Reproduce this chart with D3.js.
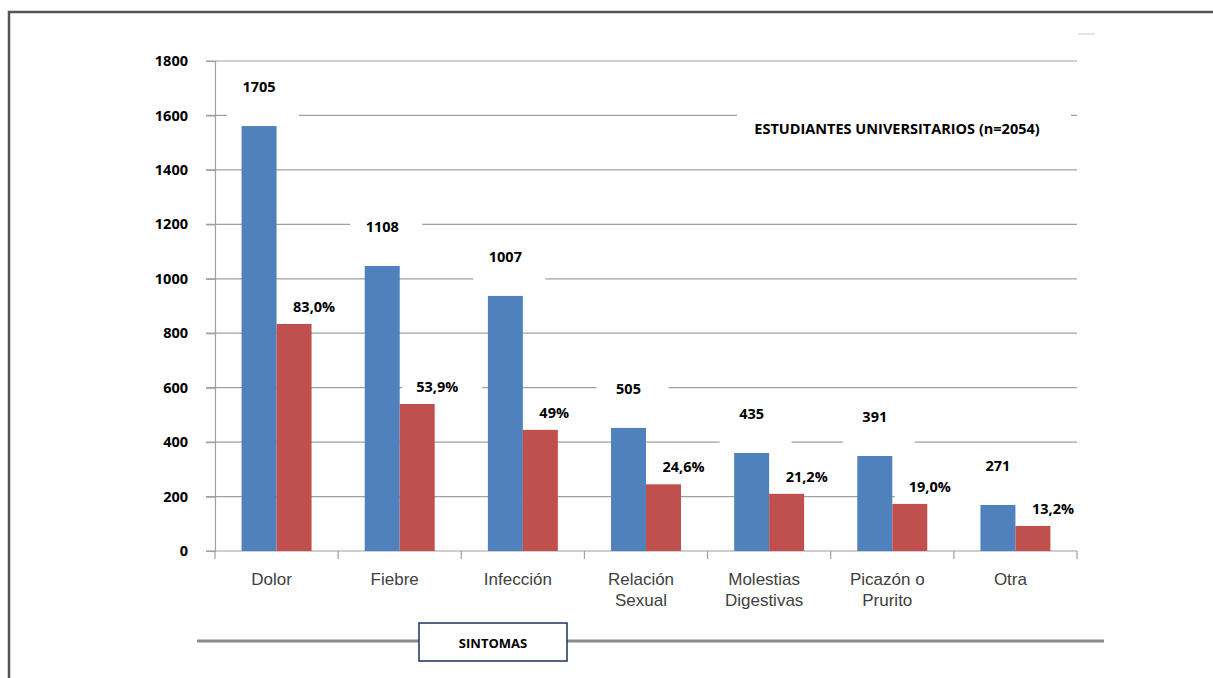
<!DOCTYPE html>
<html>
<head>
<meta charset="utf-8">
<script src="https://cdn.jsdelivr.net/npm/d3@7"></script>
<style>
	body { margin: 0; background: #fff; }
	svg text { font-family: "Open Sans", "Noto Sans", sans-serif; }
</style>
</head>
<body>
<div id="chart"></div>
<script>
// categories and values
const categories = ["Dolor", "Fiebre", "Infección", "Relación Sexual", "Molestias Digestivas", "Picazón o Prurito", "Otra"];
const categoryLines = [["Dolor"], ["Fiebre"], ["Infección"], ["Relación", "Sexual"], ["Molestias", "Digestivas"], ["Picazón o", "Prurito"], ["Otra"]];
const countValues = [1561, 1047, 937, 452, 360, 349, 169];
const percentValues = [834, 540, 445, 245, 210, 173, 92];
const countLabels = ["1705", "1108", "1007", "505", "435", "391", "271"];
const percentLabels = ["83,0%", "53,9%", "49%", "24,6%", "21,2%", "19,0%", "13,2%"];
const yTicks = [0, 200, 400, 600, 800, 1000, 1200, 1400, 1600, 1800];

const blue = "#4f81bd";
const red = "#c0504d";
const gridColor = "#a0a0a0";

const width = 1213, height = 678;
const svg = d3.select("#chart").append("svg")
	.attr("width", width)
	.attr("height", height);

// outer frame (only top and left visible)
svg.append("path")
	.attr("d", `M9,${height} L9,12 L${width},12`)
	.attr("fill", "none")
	.attr("stroke", "#555")
	.attr("stroke-width", 2.5);

const x = d3.scaleBand().domain(categories).range([215, 1077]);
const xInner = d3.scaleBand().domain(["n", "p"]).range([0, x.bandwidth()]).paddingOuter(0.76);
const y = d3.scaleLinear().domain([0, 1800]).range([551, 61]);

// gridlines
svg.append("g")
	.selectAll("line")
	.data(yTicks.filter((d) => d > 0))
	.join("line")
	.attr("x1", 206)
	.attr("x2", 1077)
	.attr("y1", (d) => y(d))
	.attr("y2", (d) => y(d))
	.attr("stroke", gridColor)
	.attr("stroke-width", 1.2);

// y axis
const yAxis = svg.append("g")
	.attr("transform", "translate(215,0)")
	.call(d3.axisLeft(y).tickValues(yTicks).tickFormat(d3.format("d")).tickSize(9).tickPadding(18));
yAxis.select(".domain").attr("stroke", gridColor).attr("stroke-width", 1.2);
yAxis.selectAll(".tick line").attr("stroke", gridColor).attr("stroke-width", 1.2);
yAxis.selectAll(".tick text")
	.attr("font-size", 14.5)
	.attr("font-weight", 700)
	.attr("fill", "#000")
	.style("font-family", "'Open Sans', sans-serif");

// x axis line and boundary ticks
svg.append("line")
	.attr("x1", 206).attr("x2", 1077)
	.attr("y1", y(0)).attr("y2", y(0))
	.attr("stroke", gridColor).attr("stroke-width", 1.2);
svg.append("g")
	.selectAll("line")
	.data(categories.map((c) => x(c)).concat([x.range()[1]]))
	.join("line")
	.attr("x1", (d) => d).attr("x2", (d) => d)
	.attr("y1", y(0)).attr("y2", y(0) + 8)
	.attr("stroke", gridColor).attr("stroke-width", 1.2);

// white boxes behind data labels (they cut the gridlines)
const labelBoxes = svg.append("g");
categories.forEach((c, i) => {
	const bx = x(c) + xInner("n") + xInner.bandwidth() / 2;
	const by = y(countValues[i]) - 39;
	labelBoxes.append("rect")
		.attr("x", bx + 4 - 36).attr("y", by - 20)
		.attr("width", 72).attr("height", 52)
		.attr("fill", "#fff");
	const px = x(c) + xInner("p") + xInner.bandwidth() / 2 - 1;
	const py = y(percentValues[i]) - 17;
	labelBoxes.append("rect")
		.attr("x", px - 14).attr("y", py - 16)
		.attr("width", 80).attr("height", 28)
		.attr("fill", "#fff");
});

// title box
svg.append("rect")
	.attr("x", 737).attr("y", 106)
	.attr("width", 334).attr("height", 44)
	.attr("fill", "#fff");
svg.append("text")
	.attr("x", 897).attr("y", 129)
	.attr("dy", "0.35em")
	.attr("text-anchor", "middle")
	.attr("font-size", 14.5)
	.attr("font-weight", 700)
	.attr("fill", "#000")
	.text("ESTUDIANTES UNIVERSITARIOS (n=2054)");

// bars
const groups = svg.append("g")
	.selectAll("g")
	.data(categories)
	.join("g")
	.attr("transform", (d) => `translate(${x(d)},0)`);

groups.append("rect")
	.attr("x", xInner("n"))
	.attr("y", (d, i) => y(countValues[i]))
	.attr("width", xInner.bandwidth())
	.attr("height", (d, i) => y(0) - y(countValues[i]))
	.attr("fill", blue);

groups.append("rect")
	.attr("x", xInner("p"))
	.attr("y", (d, i) => y(percentValues[i]))
	.attr("width", xInner.bandwidth())
	.attr("height", (d, i) => y(0) - y(percentValues[i]))
	.attr("fill", red);

// data labels
groups.append("text")
	.attr("x", xInner("n") + xInner.bandwidth() / 2)
	.attr("y", (d, i) => y(countValues[i]) - 39)
	.attr("dy", "0.35em")
	.attr("text-anchor", "middle")
	.attr("font-size", 14.5)
	.attr("font-weight", 700)
	.text((d, i) => countLabels[i]);

groups.append("text")
	.attr("x", xInner("p") + xInner.bandwidth() / 2 - 1)
	.attr("y", (d, i) => y(percentValues[i]) - 17)
	.attr("dy", "0.35em")
	.attr("text-anchor", "start")
	.attr("font-size", 14.5)
	.attr("font-weight", 700)
	.text((d, i) => percentLabels[i]);

// category labels
const catText = svg.append("g")
	.selectAll("text")
	.data(categories)
	.join("text")
	.attr("x", (d) => x(d) + x.bandwidth() / 2 - 5)
	.attr("y", 585)
	.attr("text-anchor", "middle")
	.attr("font-size", 17)
	.attr("fill", "#404040")
	.style("font-family", "'Liberation Sans', Arial, sans-serif");
catText.selectAll("tspan")
	.data((d, i) => categoryLines[i])
	.join("tspan")
	.attr("x", function () { return this.parentNode.getAttribute("x"); })
	.attr("dy", (d, j) => (j === 0 ? 0 : 21))
	.text((d) => d);

// axis title bar
svg.append("line")
	.attr("x1", 197).attr("x2", 1104)
	.attr("y1", 641).attr("y2", 641)
	.attr("stroke", "#8c8c8c")
	.attr("stroke-width", 3);
svg.append("rect")
	.attr("x", 419).attr("y", 623)
	.attr("width", 148).attr("height", 38)
	.attr("fill", "#fff")
	.attr("stroke", "#1f2f5a")
	.attr("stroke-width", 1.5);
svg.append("text")
	.attr("x", 493).attr("y", 643)
	.attr("dy", "0.35em")
	.attr("text-anchor", "middle")
	.attr("font-size", 13)
	.attr("font-weight", 700)
	.text("SINTOMAS");

// small stray marks
svg.append("line")
	.attr("x1", 1078).attr("x2", 1095)
	.attr("y1", 34).attr("y2", 34)
	.attr("stroke", "#ccc");
</script>
</body>
</html>
